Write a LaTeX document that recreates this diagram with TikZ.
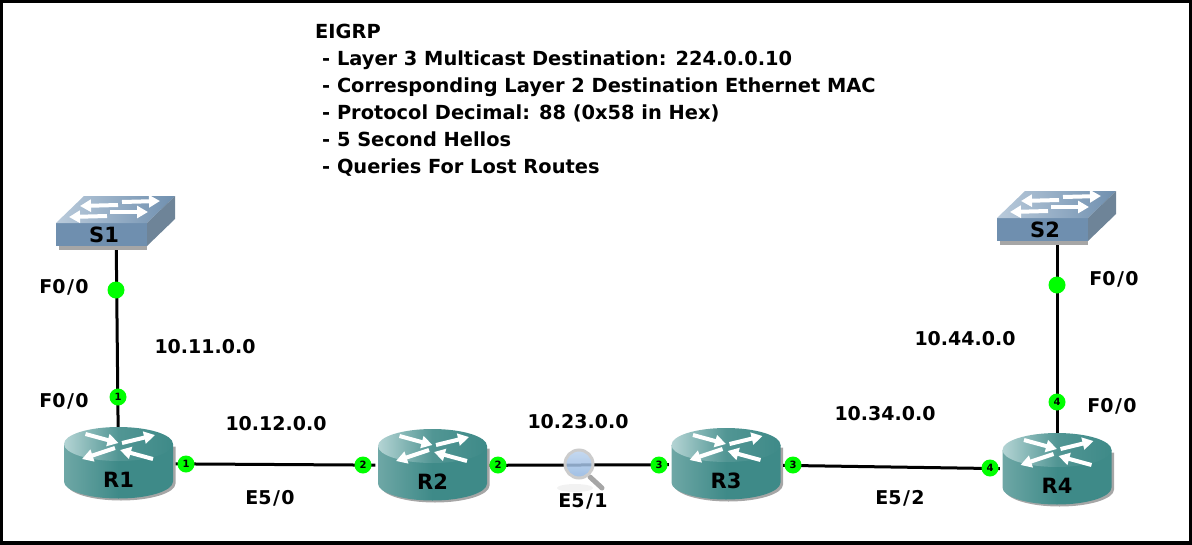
\documentclass[tikz,border=0pt]{standalone}
\usepackage{fontspec}
\setmainfont{DejaVu Sans}
\usetikzlibrary{arrows.meta, positioning}
\definecolor{routerteal}{HTML}{3E8A88}
\definecolor{routerlight}{HTML}{B4D4D4}
\definecolor{switchblue}{HTML}{6F8FAF}
\definecolor{switchlight}{HTML}{BACBDB}
\definecolor{switchside}{HTML}{6E8498}
\definecolor{portgreen}{HTML}{00FF00}
\definecolor{lensblue}{HTML}{8FB4E0}
\newcommand{\routerart}{%
  \begin{scope}[shift={(path picture bounding box.center)}]
    \fill[gray!70] (-52,-17) -- (-52,20) arc[start angle=180, end angle=360, x radius=54.5pt, y radius=17pt] -- (57,-17) -- cycle;
    \path[left color=routerteal!75!white, right color=routerteal, middle color=routerteal] (-54.5,-19.5) -- (-54.5,18) arc[start angle=180, end angle=360, x radius=54.5pt, y radius=17pt] -- (54.5,-19.5) -- cycle;
    \path[left color=routerlight, right color=routerteal, middle color=routerteal!90!white] (0,-19.5) ellipse[x radius=54.5pt, y radius=17pt];
    \foreach \ax/\ay/\bx/\by in {-33/-29.5/0/-20.5, 3.5/-20.5/36.5/-28.5, -3.5/-15.5/-36.5/-4.5, 34.5/-4.5/1.5/-13.5}
      \draw[iconarrow] (\ax,\ay) -- (\bx,\by);
  \end{scope}}
\newcommand{\switchart}{%
  \begin{scope}[shift={(path picture bounding box.center)}]
    \fill[gray!70] (-57,24) rectangle (31,28);
    \fill[switchblue] (-60,1) rectangle (31,24);
    \path[left color=switchlight, right color=switchblue] (-60,1) -- (-32,-26) -- (59,-26) -- (31,1) -- cycle;
    \fill[switchside] (31,1) -- (59,-26) -- (59,-3) -- (31,24) -- cycle;
    \foreach \ax/\ay/\bx/\by in {2/-17/-36/-16, 6/-20/44/-21, -9/-6/-47/-5, -6/-10/32/-10}
      \draw[iconarrow] (\ax,\ay) -- (\bx,\by);
  \end{scope}}
\newcommand{\slashgap}{\kern1.5pt/\kern1.5pt}

\begin{document}
\begin{tikzpicture}[
    x=1pt, y=-1pt,
    iconarrow/.style={-{Triangle[length=11pt, width=12pt]}, line width=4pt, white},
    routernode/.style={minimum width=114pt, minimum height=73pt, inner sep=0pt, path picture={\routerart},
      label={[yshift=-16pt, devtext]center:#1}},
    switchnode/.style={minimum width=124pt, minimum height=56pt, inner sep=0pt, path picture={\switchart},
      label={[xshift=-12pt, yshift=-13pt, devtext]center:#1}},
    devtext/.style={font=\bfseries\fontsize{21}{25}\selectfont},
    netlabel/.style={font=\bfseries\fontsize{19}{23}\selectfont, inner sep=0pt},
    portdot/.style={circle, fill=portgreen, minimum size=17pt, inner sep=0pt, font=\bfseries\fontsize{10}{10}\selectfont},
    link/.style={line width=3pt, black}
  ]
    \useasboundingbox (0,0) rectangle (1192,544);
    \draw[line width=6pt] (0,0) rectangle (1192,544);

    \node[font=\bfseries\fontsize{19.4}{27}\selectfont, align=left, anchor=north west, inner sep=0pt] (eigrpnote) at (315,24) {EIGRP\\
      \hspace*{7pt}- Layer 3 Multicast Destination: 224.0.0.10\\
      \hspace*{7pt}- Corresponding Layer 2 Destination Ethernet MAC\\
      \hspace*{7pt}- Protocol Decimal: 88 (0x58 in Hex)\\
      \hspace*{7pt}- 5 Second Hellos\\
      \hspace*{7pt}- Queries For Lost Routes};

    \node[switchnode=S1] (S1) at (116,222) {};
    \node[switchnode=S2] (S2) at (1057,217) {};
    \node[routernode=R1] (R1) at (118.5,463.5) {};
    \node[routernode=R2] (R2) at (432.5,465.5) {};
    \node[routernode=R3] (R3) at (726,464.5) {};
    \node[routernode=R4] (R4) at (1057,469.5) {};

    \draw[link] (S1) -- (R1);
    \draw[link] (S2) -- (R4);
    \draw[link] (R1) -- (R2);
    \draw[link] (R2) -- (R3);
    \draw[link] (R3) -- (R4);

    % port markers
    \foreach \nm/\x/\y/\txt in {a/116/290/, b/118/397/1, c/186/464/1, d/363/465/2, e/498/465/2,
        f/659/465/3, g/793/465/3, h/990/468/4, i/1057/402/4, j/1057/285/}
      \node[portdot] (port\nm) at (\x,\y) {\txt};

    % capture lens
    \fill[gray!10] (575,488) ellipse[x radius=18pt, y radius=4pt];
    \draw[line cap=round, line width=5pt, gray!70] (590,477) -- (602,488);
    \node[circle, draw=gray!40, line width=3pt, top color=lensblue!60!white, bottom color=lensblue, fill opacity=.85, minimum size=28pt] (lens) at (579,464) {};

    \node[netlabel] (s1top) at (64,287) {F0\slashgap 0};
    \node[netlabel] (r1top) at (64,401) {F0\slashgap 0};
    \node[netlabel] (net11) at (205,347) {10.11.0.0};
    \node[netlabel] (net12) at (276,424) {10.12.0.0};
    \node[netlabel] (e50) at (270,498) {E5\slashgap 0};
    \node[netlabel] (net23) at (578,422) {10.23.0.0};
    \node[netlabel] (e51) at (583,501) {E5\slashgap 1};
    \node[netlabel] (net34) at (885,414) {10.34.0.0};
    \node[netlabel] (e52) at (900,498) {E5\slashgap 2};
    \node[netlabel] (net44) at (965,339) {10.44.0.0};
    \node[netlabel] (s2top) at (1114,279) {F0\slashgap 0};
    \node[netlabel] (r4top) at (1112,406) {F0\slashgap 0};
  \end{tikzpicture}
\end{document}
